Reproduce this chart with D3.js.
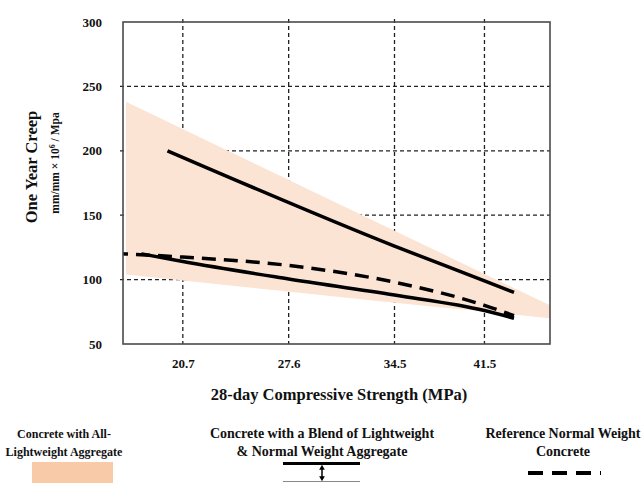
<!DOCTYPE html>
<html lang="en">

<head>
    <meta charset="UTF-8">
    <title>One Year Creep vs Compressive Strength</title>
    <script src="https://d3js.org/d3.v7.min.js"></script>
    <style>
        body { margin: 0; background: #fff; }
    </style>
</head>

<body>
    <script>
        // Chart values
        var xTicks = [20.7, 27.6, 34.5, 41.5];
        var yTicks = [50, 100, 150, 200, 250, 300];
        var yGrid = [100, 150, 200, 250];

        // All-lightweight aggregate range (shaded band)
        var bandX = [17.0, 34.5, 46.6];
        var bandUpper = [238, 138, 80];
        var bandLower = [104, 82, 70];

        // Blend of lightweight & normal weight aggregate (upper and lower bounds)
        var blendUpperX = [19.7, 34.5, 41.5, 43.8];
        var blendUpperY = [200, 126, 99, 90];
        var blendLowerX = [18.0, 20.7, 27.6, 34.5, 41.5, 43.8];
        var blendLowerY = [120, 114, 100.5, 88, 76, 70];

        // Reference normal weight concrete
        var refX = [16.8, 20.7, 27.6, 34.5, 41.5, 43.8];
        var refY = [120, 117.5, 111, 98, 80, 72];

        var legendLabels = [
            ["Concrete with All-", "Lightweight Aggregate"],
            ["Concrete with a Blend of Lightweight", "& Normal Weight Aggregate"],
            ["Reference Normal Weight", "Concrete"]
        ];

        var serif = "'Liberation Serif', 'Times New Roman', Times, serif";

        // Wymiary
        var width = 643, height = 483;
        var margin = { top: 22, right: 93, bottom: 145, left: 123 };

        var svg = d3.select("body").append("svg")
            .attr("width", width)
            .attr("height", height)
            .attr("font-family", serif)
            .attr("font-weight", "bold");

        // x axis in the original is not evenly spaced after 34.5, so two linear pieces
        var x = d3.scaleLinear()
            .domain([16.8, 34.5, 46.6])
            .range([margin.left, margin.left + 271.5, width - margin.right]);

        var y = d3.scaleLinear()
            .domain([50, 300])
            .range([height - margin.bottom + 6, margin.top]);

        var x0 = x.range()[0], x1 = x.range()[2];
        var y0 = y.range()[0], y1 = y.range()[1];

        // Siatka
        svg.append("g").selectAll("line.vg")
            .data(xTicks)
            .enter().append("line")
            .attr("x1", d => x(d)).attr("x2", d => x(d))
            .attr("y1", y1 - 3).attr("y2", y0)
            .attr("stroke", "#222")
            .attr("stroke-width", 1.3)
            .attr("stroke-dasharray", "4,3");

        svg.append("g").selectAll("line.hg")
            .data(yGrid)
            .enter().append("line")
            .attr("x1", x0 - 3).attr("x2", x1)
            .attr("y1", d => y(d)).attr("y2", d => y(d))
            .attr("stroke", "#222")
            .attr("stroke-width", 1.3)
            .attr("stroke-dasharray", "4,3");

        // Band
        var band = bandX.map((d, i) => ({ x: d, lo: bandLower[i], hi: bandUpper[i] }));
        svg.append("path")
            .datum(band)
            .attr("fill", "#fce4d4")
            .attr("d", d3.area().x(d => x(d.x)).y0(d => y(d.lo)).y1(d => y(d.hi)));

        // Lines
        var line = d3.line().x(d => x(d[0])).y(d => y(d[1])).curve(d3.curveMonotoneX);

        svg.append("path")
            .datum(blendUpperX.map((d, i) => [d, blendUpperY[i]]))
            .attr("fill", "none")
            .attr("stroke", "#000")
            .attr("stroke-width", 3.5)
            .attr("d", line);

        svg.append("path")
            .datum(blendLowerX.map((d, i) => [d, blendLowerY[i]]))
            .attr("fill", "none")
            .attr("stroke", "#000")
            .attr("stroke-width", 3.5)
            .attr("d", line);

        svg.append("path")
            .datum(refX.map((d, i) => [d, refY[i]]))
            .attr("fill", "none")
            .attr("stroke", "#000")
            .attr("stroke-width", 3.5)
            .attr("stroke-dasharray", "14,8")
            .attr("stroke-dashoffset", 9)
            .attr("d", line);

        // Ramka
        svg.append("rect")
            .attr("x", x0).attr("y", y1)
            .attr("width", x1 - x0).attr("height", y0 - y1)
            .attr("fill", "none")
            .attr("stroke", "#4a4a4a")
            .attr("stroke-width", 1.6);

        // Osie (tylko etykiety)
        var xAxis = svg.append("g")
            .attr("transform", `translate(0,${y0})`)
            .call(d3.axisBottom(x).tickValues(xTicks).tickSize(0).tickPadding(15).tickFormat(d3.format(".1f")));
        xAxis.select(".domain").remove();
        xAxis.attr("font-family", serif).attr("font-size", 13);
        xAxis.selectAll("text").attr("fill", "#111");

        var yAxis = svg.append("g")
            .attr("transform", `translate(${x0},0)`)
            .call(d3.axisLeft(y).tickValues(yTicks).tickSize(0).tickPadding(21));
        yAxis.select(".domain").remove();
        yAxis.attr("font-family", serif).attr("font-size", 13);
        yAxis.selectAll("text").attr("fill", "#111");

        // Tytuły osi
        svg.append("text")
            .attr("x", 339)
            .attr("y", 400)
            .attr("text-anchor", "middle")
            .attr("fill", "#111")
            .style("font-size", "16.5px")
            .text("28-day Compressive Strength (MPa)");

        svg.append("text")
            .attr("transform", "translate(37,167) rotate(-90)")
            .attr("text-anchor", "middle")
            .attr("fill", "#111")
            .style("font-size", "16.5px")
            .text("One Year Creep");

        var sub = svg.append("text")
            .attr("transform", "translate(59,163) rotate(-90)")
            .attr("text-anchor", "middle")
            .attr("fill", "#111")
            .style("font-size", "11.5px");
        sub.append("tspan").text("mm/mm \u00d7 10");
        sub.append("tspan").attr("dy", -4).style("font-size", "8px").text("6");
        sub.append("tspan").attr("dy", 4).text(" / Mpa");

        // Legenda
        var legendX = [64, 322, 563];
        var legendSize = [12, 14, 14];
        legendLabels.forEach(function (lines, i) {
            lines.forEach(function (t, j) {
                svg.append("text")
                    .attr("x", legendX[i])
                    .attr("y", 438 + j * 18)
                    .attr("text-anchor", "middle")
                    .attr("fill", "#111")
                    .style("font-size", legendSize[i] + "px")
                    .text(t);
            });
        });

        svg.append("rect")
            .attr("x", legendX[0] - 32).attr("y", 462)
            .attr("width", 81).attr("height", 22)
            .attr("fill", "#f9caa8");

        svg.append("line")
            .attr("x1", legendX[1] - 39).attr("x2", legendX[1] + 38)
            .attr("y1", 463.5).attr("y2", 463.5)
            .attr("stroke", "#000").attr("stroke-width", 3);
        svg.append("line")
            .attr("x1", legendX[1] - 39).attr("x2", legendX[1] + 38)
            .attr("y1", 481.5).attr("y2", 481.5)
            .attr("stroke", "#888").attr("stroke-width", 1.2);
        svg.append("line")
            .attr("x1", legendX[1]).attr("x2", legendX[1])
            .attr("y1", 468).attr("y2", 477)
            .attr("stroke", "#000").attr("stroke-width", 1.5);
        svg.append("path")
            .attr("d", d3.symbol().type(d3.symbolTriangle).size(14))
            .attr("transform", `translate(${legendX[1]},468) `);
        svg.append("path")
            .attr("d", d3.symbol().type(d3.symbolTriangle).size(14))
            .attr("transform", `translate(${legendX[1]},478) rotate(180)`);

        svg.append("line")
            .attr("x1", legendX[2] - 35).attr("x2", legendX[2] + 38)
            .attr("y1", 473).attr("y2", 473)
            .attr("stroke", "#000").attr("stroke-width", 4)
            .attr("stroke-dasharray", "15,9");
    </script>
</body>

</html>
